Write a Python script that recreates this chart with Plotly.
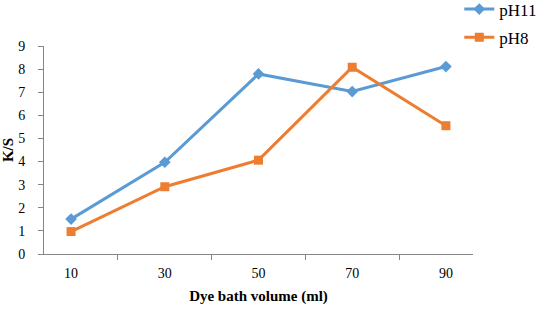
import plotly.graph_objects as go

categories = ["10", "30", "50", "70", "90"]
ph11 = [1.51, 3.97, 7.79, 7.03, 8.11]
ph8 = [0.97, 2.91, 4.06, 8.08, 5.55]
y_ticks = [0, 1, 2, 3, 4, 5, 6, 7, 8, 9]

BLUE = "#5B9BD5"
ORANGE = "#ED7D31"
FONT = "Liberation Serif, Times New Roman, serif"

fig = go.Figure()
fig.add_trace(go.Scatter(x=categories, y=ph11, name="pH11", mode="lines+markers",
                         line=dict(color=BLUE, width=3),
                         marker=dict(symbol="diamond", size=9, color=BLUE),
                         legendgroup="a"))
fig.add_trace(go.Scatter(x=categories, y=ph8, name="pH8", mode="lines+markers",
                         line=dict(color=ORANGE, width=3),
                         marker=dict(symbol="square", size=9, color=ORANGE),
                         legendgroup="b"))

fig.update_layout(
    width=537, height=311,
    margin=dict(l=44, r=64, t=46, b=57, autoexpand=False),
    paper_bgcolor="white", plot_bgcolor="white",
    font=dict(family=FONT, size=14, color="black"),
    legend=dict(x=0.968, y=1.262, xanchor="left", yanchor="top",
                font=dict(family=FONT, size=17), tracegroupgap=3,
                bgcolor="rgba(0,0,0,0)"),
    xaxis=dict(type="category", tickson="boundaries", ticks="outside", ticklen=5,
               tickcolor="#868686", showline=True, linecolor="#868686", linewidth=1,
               showgrid=False, zeroline=False, ticklabelstandoff=6,
               title=dict(text="<b>Dye bath volume (ml)</b>", font=dict(size=15), standoff=10),
               tickfont=dict(size=14)),
    yaxis=dict(range=[0, 9], tickvals=y_ticks, ticks="outside", ticklen=5,
               tickcolor="#868686", showline=True, linecolor="#868686", linewidth=1,
               showgrid=False, zeroline=False, ticklabelstandoff=10,
               title=dict(text="<b>K/S</b>", font=dict(size=15), standoff=2),
               tickfont=dict(size=14)),
)

fig.write_html("out.html", config={"displayModeBar": False},
               post_script="document.body.style.margin='0px';")
